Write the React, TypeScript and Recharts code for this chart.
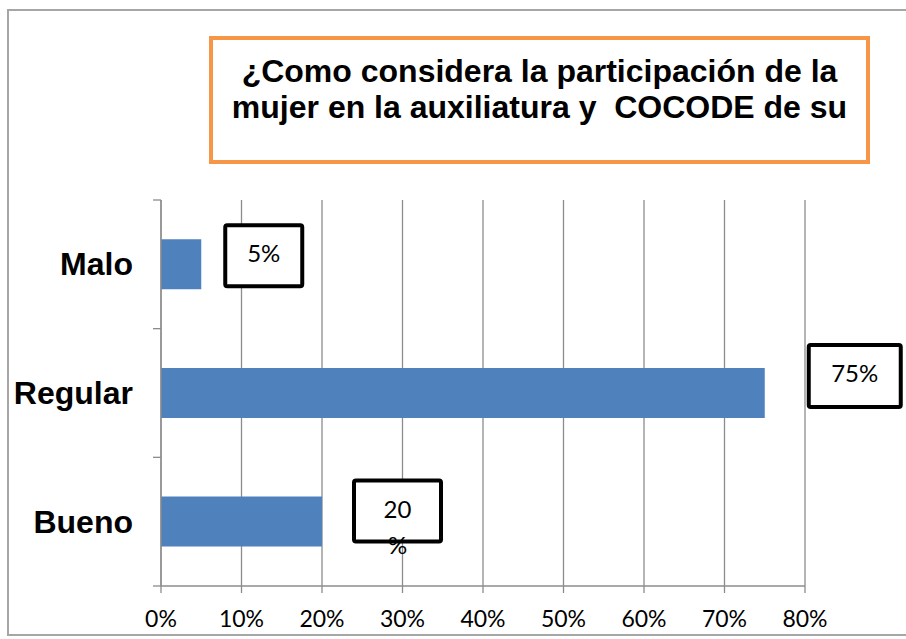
import React from 'react'
import { BarChart, Bar, XAxis, YAxis, CartesianGrid, LabelList } from 'recharts'

// chart values
const categories = ['Malo', 'Regular', 'Bueno']
const shares = [0.05, 0.75, 0.2]
const xTicks = [0, 0.1, 0.2, 0.3, 0.4, 0.5, 0.6, 0.7, 0.8]
const titleLines = ['¿Como considera la participación de la', 'mujer en la auxiliatura y  COCODE de su']

// where each boxed label sits relative to the end of its bar
const labelBoxes = [
  { dx: 22, dy: -16, w: 81, h: 65, wrap: false },
  { dx: 42, dy: -25, w: 96, h: 66, wrap: false },
  { dx: 30, dy: -18, w: 91, h: 65, wrap: true },
]

const W = 906
const H = 639
const PLOT_TOP = 200
const PLOT_BOTTOM = 586
const GRAY = '#8c8c8c'
const BAR = '#4F81BD'

const chartData = categories.map((name, i) => ({ name, value: shares[i] }))
const pct = (v: number) => `${Math.round(v * 100)}%`

const CategoryTick = (props: any) => {
  const { x, y, payload, index } = props
  const band = (PLOT_BOTTOM - PLOT_TOP) / categories.length
  return (
    <g>
      <line x1={x - 8} x2={x} y1={y - band / 2} y2={y - band / 2} stroke={GRAY} strokeWidth={1.3} />
      {index === categories.length - 1 && (
        <line x1={x - 8} x2={x} y1={y + band / 2} y2={y + band / 2} stroke={GRAY} strokeWidth={1.3} />
      )}
      <text
        x={x - 28}
        y={y}
        dy={11}
        textAnchor="end"
        fontFamily="'Liberation Sans', Arial, sans-serif"
        fontWeight="bold"
        fontSize={32}
        fill="#000"
      >
        {payload.value}
      </text>
    </g>
  )
}

const PercentTick = (props: any) => {
  const { x, y, payload } = props
  return (
    <text x={x} y={y + 34} textAnchor="middle" fontFamily="Lato, sans-serif" fontSize={23} fill="#000">
      {pct(payload.value)}
    </text>
  )
}

const BoxLabel = (props: any) => {
  const { x, y, width, value } = props
  let idx = props.index
  if (idx === undefined) idx = shares.indexOf(value)
  const box = labelBoxes[idx]
  if (!box) return null
  const left = x + width + box.dx
  const top = y + box.dy
  const cx = left + box.w / 2
  const text = pct(value)
  const lines = box.wrap ? [text.slice(0, -1), '%'] : [text]
  return (
    <g>
      <rect x={left + 2} y={top + 2} width={box.w - 4} height={box.h - 4} rx={2} fill="#fff" stroke="#000" strokeWidth={4} />
      {lines.map((t, k) => (
        <text key={k} x={cx} y={top + 39 + k * 36} textAnchor="middle" fontFamily="Lato, sans-serif" fontSize={24} fill="#000">
          {t}
        </text>
      ))}
    </g>
  )
}

export default function App() {
  return (
    <div style={{ position: 'absolute', left: 0, top: 0, width: W, height: H, background: '#fff', overflow: 'hidden' }}>
      <div
        style={{
          position: 'absolute',
          left: 7,
          top: 9,
          width: W,
          height: 627,
          borderTop: '2px solid #a6a6a6',
          borderLeft: '2px solid #a6a6a6',
          borderBottom: '2px solid #a6a6a6',
          boxSizing: 'border-box',
        }}
      />
      <BarChart
        width={W}
        height={H}
        data={chartData}
        layout="vertical"
        margin={{ top: PLOT_TOP, right: 101, bottom: 0, left: 0 }}
        barCategoryGap="30.5%"
        style={{ position: 'absolute', left: 0, top: 0 }}
      >
        <CartesianGrid horizontal={false} stroke={GRAY} strokeWidth={1.3} />
        <XAxis
          type="number"
          domain={[0, 0.8]}
          ticks={xTicks}
          height={H - PLOT_BOTTOM}
          tickSize={7}
          tickMargin={0}
          axisLine={{ stroke: GRAY, strokeWidth: 1.3 }}
          tickLine={{ stroke: GRAY, strokeWidth: 1.3 }}
          tick={<PercentTick />}
          interval={0}
        />
        <YAxis
          type="category"
          dataKey="name"
          width={161}
          tickSize={0}
          tickMargin={0}
          tickLine={false}
          axisLine={{ stroke: GRAY, strokeWidth: 1.3 }}
          tick={<CategoryTick />}
          interval={0}
        />
        <Bar dataKey="value" fill={BAR} isAnimationActive={false}>
          <LabelList dataKey="value" content={<BoxLabel />} />
        </Bar>
      </BarChart>
      <div
        style={{
          position: 'absolute',
          left: 209,
          top: 36,
          width: 661,
          height: 128,
          border: '4px solid #F79646',
          boxSizing: 'border-box',
          textAlign: 'center',
          fontFamily: "'Liberation Sans', Arial, sans-serif",
          fontWeight: 'bold',
          fontSize: 32,
          lineHeight: '36px',
          paddingTop: 13,
          whiteSpace: 'pre',
          color: '#000',
        }}
      >
        {titleLines.map((l, i) => (
          <div key={i}>{l}</div>
        ))}
      </div>
    </div>
  )
}
